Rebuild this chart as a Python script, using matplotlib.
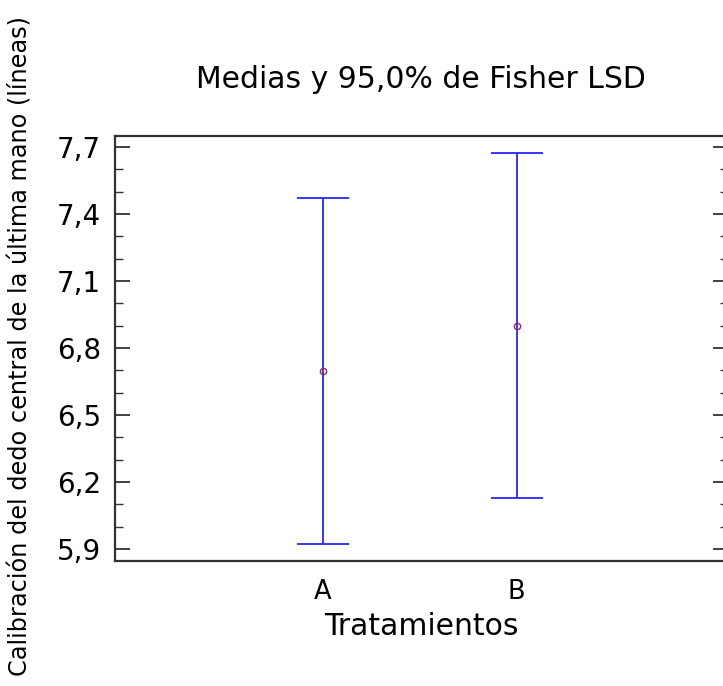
import matplotlib
matplotlib.use("Agg")
import matplotlib.pyplot as plt
from matplotlib.ticker import MultipleLocator, FixedLocator

plt.rcParams["font.family"] = ["DejaVu Sans"]

# group means and LSD half-widths
tratamientos = ["A", "B"]
medias = [6.697, 6.900]
semi_lsd = [0.775, 0.773]
y_ticks = [5.9, 6.2, 6.5, 6.8, 7.1, 7.4, 7.7]

fig = plt.figure(figsize=(7.23, 6.86), dpi=100)
ax = fig.add_axes([115 / 723, 1 - 561 / 686, (728 - 115) / 723, (561 - 136) / 686])

xs = [1, 2]
ax.errorbar(xs, medias, yerr=semi_lsd, fmt="none", ecolor="#2626ff",
            elinewidth=1.3, capsize=19, capthick=1.3)
ax.plot(xs, medias, linestyle="none", marker="o", markersize=4.5,
        mfc="none", mec="#a02070", mew=1.0)

ax.set_xlim(-0.07, 3.09)
ax.set_ylim(5.846, 7.749)
ax.set_xticks(xs)
ax.set_xticklabels(tratamientos)
ax.yaxis.set_major_locator(FixedLocator(y_ticks))
ax.yaxis.set_minor_locator(MultipleLocator(0.1))
ax.set_yticklabels([f"{v:.1f}".replace(".", ",") for v in y_ticks])

ax.tick_params(axis="y", which="major", direction="in", length=11, width=1.3,
               right=True, labelsize=20, pad=10, color="#333333")
ax.tick_params(axis="y", which="minor", direction="in", length=6, width=1.0,
               right=True, color="#333333")
ax.tick_params(axis="x", length=0, labelsize=18.5, pad=13)

for s in ax.spines.values():
    s.set_linewidth(1.6)
    s.set_color("#333333")

ax.set_xlabel("Tratamientos", fontsize=21.5)
ax.xaxis.set_label_coords(0.499, -0.174)
ax.xaxis.label.set_verticalalignment("baseline")

ax.set_ylabel("Calibración del dedo central de la última mano (líneas)",
              fontsize=17.3)
ax.yaxis.set_label_coords((21 - 115) / 613, 0.505)
ax.yaxis.label.set_verticalalignment("center")

fig.text(421 / 723, 1 - 88 / 686, "Medias y 95,0% de Fisher LSD",
         fontsize=21.5, ha="center", va="baseline")

fig.savefig("out.png", dpi=100)
